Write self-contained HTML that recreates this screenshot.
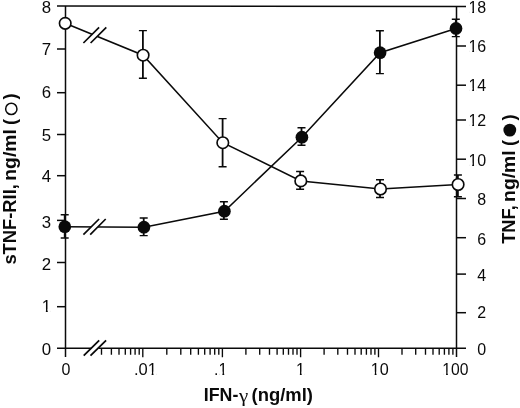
<!DOCTYPE html>
<html lang="en"><head><meta charset="utf-8"><title>Figure</title>
<style>html,body{margin:0;padding:0;background:#fff}body{width:520px;height:408px;overflow:hidden}</style></head>
<body>
<svg width="520" height="408" viewBox="0 0 520 408" style="display:block">
<rect width="520" height="408" fill="#fff"/>
<g stroke="#0a0a0a" stroke-width="1.5" fill="none" stroke-linecap="butt">
<path d="M57 5.95L466 6.5"/>
<path d="M65.5 6.1V357"/>
<path d="M456.5 6.1V357"/>
<path d="M57 348.3H91.5M98.5 348.3H466"/>
<path d="M57 49H65.5"/>
<path d="M57 92.7H65.5"/>
<path d="M57 134.5H65.5"/>
<path d="M57 175.7H65.5"/>
<path d="M57 220.4H65.5"/>
<path d="M57 262.5H65.5"/>
<path d="M57 306.7H65.5"/>
<path d="M456.5 46H466"/>
<path d="M456.5 85.2H466"/>
<path d="M456.5 120H466"/>
<path d="M456.5 159.2H466"/>
<path d="M456.5 198.5H466"/>
<path d="M456.5 237.7H466"/>
<path d="M456.5 274.1H466"/>
<path d="M456.5 312.7H466"/>
<path d="M101.5 348.3V354.7M111.4 348.3V354.7M119.0 348.3V354.7M125.3 348.3V354.7M130.6 348.3V354.7M135.1 348.3V354.7M139.2 348.3V354.7M166.8 348.3V354.7M180.8 348.3V354.7M190.7 348.3V354.7M198.4 348.3V354.7M204.7 348.3V354.7M210.1 348.3V354.7M214.7 348.3V354.7M218.8 348.3V354.7M245.9 348.3V354.7M259.7 348.3V354.7M269.5 348.3V354.7M277.1 348.3V354.7M283.3 348.3V354.7M288.5 348.3V354.7M293.0 348.3V354.7M297.0 348.3V354.7M324.1 348.3V354.7M337.8 348.3V354.7M347.5 348.3V354.7M355.0 348.3V354.7M361.2 348.3V354.7M366.4 348.3V354.7M371.0 348.3V354.7M374.9 348.3V354.7M402.0 348.3V354.7M415.7 348.3V354.7M425.5 348.3V354.7M433.0 348.3V354.7M439.2 348.3V354.7M444.4 348.3V354.7M448.9 348.3V354.7M452.9 348.3V354.7M142.8 348.3V357.2M222.4 348.3V357.2M300.6 348.3V357.2M378.5 348.3V357.2" stroke-width="1.35"/>
<path d="M83.7 355.6L99.2 340.4M90.5 355.6L106.1 340.4" stroke-width="1.8"/>
</g>
<g stroke="#0a0a0a" stroke-width="1.55" fill="none">
<polyline points="65.2,23.3 143.1,55.2 222.8,142.7 300.8,180.9 380.5,189.0 458.1,184.5"/>
<polyline points="64.8,226.7 143.9,227.2 224.4,211.2 301.9,137.2 380.1,52.7 456.0,28.4"/>
<path d="M83.4 43L99.1 27.4L106.3 27.4L90.6 43Z" fill="#fff" stroke="none"/>
<path d="M83.4 234.6L99.1 219L105.7 219L90.2 234.6Z" fill="#fff" stroke="none"/>
<path d="M83.4 43L99.1 27.4M90.6 43L106.3 27.4" stroke-width="1.7"/>
<path d="M83.4 234.6L99.1 219M90.2 234.6L105.7 219" stroke-width="1.7"/>
<path d="M142.9 30.6V78.2" stroke-width="1.8"/><path d="M138.9 30.6H146.9M138.9 78.2H146.9" stroke-width="1.45"/>
<path d="M222.6 118.6V166.7" stroke-width="1.8"/><path d="M218.6 118.6H226.6M218.6 166.7H226.6" stroke-width="1.45"/>
<path d="M300.1 171.4V189.3" stroke-width="1.8"/><path d="M296.1 171.4H304.1M296.1 189.3H304.1" stroke-width="1.45"/>
<path d="M380.0 179.7V197.4" stroke-width="1.8"/><path d="M376.0 179.7H384.0M376.0 197.4H384.0" stroke-width="1.45"/>
<path d="M457.9 175V196.8" stroke-width="1.8"/><path d="M453.9 175H461.9M453.9 196.8H461.9" stroke-width="1.45"/>
<path d="M64.7 214.7V237.9" stroke-width="1.8"/><path d="M60.7 214.7H68.7M60.7 237.9H68.7" stroke-width="1.45"/>
<path d="M143.7 217.9V235.6" stroke-width="1.8"/><path d="M139.7 217.9H147.7M139.7 235.6H147.7" stroke-width="1.45"/>
<path d="M223.9 201.8V219.3" stroke-width="1.8"/><path d="M219.9 201.8H227.9M219.9 219.3H227.9" stroke-width="1.45"/>
<path d="M301.5 127.7V145.3" stroke-width="1.8"/><path d="M297.5 127.7H305.5M297.5 145.3H305.5" stroke-width="1.45"/>
<path d="M379.9 30.7V73.6" stroke-width="1.8"/><path d="M375.9 30.7H383.9M375.9 73.6H383.9" stroke-width="1.45"/>
<path d="M455.8 19.2V36.6" stroke-width="1.8"/><path d="M451.8 19.2H459.8M451.8 36.6H459.8" stroke-width="1.45"/>
<circle cx="65.2" cy="23.3" r="5.75" fill="#fff" stroke-width="1.65"/>
<circle cx="143.1" cy="55.2" r="5.75" fill="#fff" stroke-width="1.65"/>
<circle cx="222.8" cy="142.7" r="5.75" fill="#fff" stroke-width="1.65"/>
<circle cx="300.8" cy="180.9" r="5.75" fill="#fff" stroke-width="1.65"/>
<circle cx="380.5" cy="189.0" r="5.75" fill="#fff" stroke-width="1.65"/>
<circle cx="458.1" cy="184.5" r="5.75" fill="#fff" stroke-width="1.65"/>
<circle cx="64.8" cy="226.7" r="6.35" fill="#0a0a0a" stroke="none"/>
<circle cx="143.9" cy="227.2" r="6.35" fill="#0a0a0a" stroke="none"/>
<circle cx="224.4" cy="211.2" r="6.35" fill="#0a0a0a" stroke="none"/>
<circle cx="301.9" cy="137.2" r="6.35" fill="#0a0a0a" stroke="none"/>
<circle cx="380.1" cy="52.7" r="6.35" fill="#0a0a0a" stroke="none"/>
<circle cx="456.0" cy="28.4" r="6.35" fill="#0a0a0a" stroke="none"/>
</g>
<g font-family="'Liberation Sans', Arial, Helvetica, sans-serif" font-size="16.5" fill="#0a0a0a">
<text transform="translate(51.2 12.9) scale(1.02 1)" text-anchor="end">8</text>
<text transform="translate(51.2 54.9) scale(1.02 1)" text-anchor="end">7</text>
<text transform="translate(51.2 97.9) scale(1.02 1)" text-anchor="end">6</text>
<text transform="translate(51.2 141.0) scale(1.02 1)" text-anchor="end">5</text>
<text transform="translate(51.2 181.7) scale(1.02 1)" text-anchor="end">4</text>
<text transform="translate(51.2 227.7) scale(1.02 1)" text-anchor="end">3</text>
<text transform="translate(51.2 270.0) scale(1.02 1)" text-anchor="end">2</text>
<text transform="translate(51.2 311.8) scale(1.02 1)" text-anchor="end">1</text>
<text transform="translate(51.2 354.6) scale(1.02 1)" text-anchor="end">0</text>
<text transform="translate(486.2 13.0) scale(0.97 1)" text-anchor="end">18</text>
<text transform="translate(486.2 52.1) scale(0.97 1)" text-anchor="end">16</text>
<text transform="translate(486.2 90.8) scale(0.97 1)" text-anchor="end">14</text>
<text transform="translate(486.2 125.9) scale(0.97 1)" text-anchor="end">12</text>
<text transform="translate(486.2 165.5) scale(0.97 1)" text-anchor="end">10</text>
<text transform="translate(486.2 204.8) scale(0.97 1)" text-anchor="end">8</text>
<text transform="translate(486.2 244.7) scale(0.97 1)" text-anchor="end">6</text>
<text transform="translate(486.2 281.4) scale(0.97 1)" text-anchor="end">4</text>
<text transform="translate(486.2 318.0) scale(0.97 1)" text-anchor="end">2</text>
<text transform="translate(486.2 354.7) scale(0.97 1)" text-anchor="end">0</text>
<text transform="translate(66.0 374.5) scale(0.97 1)" text-anchor="middle">0</text>
<text transform="translate(145.4 374.5) scale(1.0 1)" text-anchor="middle">.01</text>
<text transform="translate(220.8 374.5) scale(0.97 1)" text-anchor="middle">.1</text>
<text transform="translate(300.5 374.5) scale(0.97 1)" text-anchor="middle">1</text>
<text transform="translate(379.8 374.5) scale(0.98 1)" text-anchor="middle">10</text>
<text transform="translate(455.4 374.5) scale(0.95 1)" text-anchor="middle">100</text>
</g>
<g fill="#fff"><rect x="42.72" y="308.97" width="3.15" height="3.53"/><rect x="47.76" y="308.97" width="3.02" height="3.53"/><rect x="469.22" y="10.17" width="3.01" height="3.53"/><rect x="474.04" y="10.17" width="2.88" height="3.53"/><rect x="469.22" y="49.27" width="3.01" height="3.53"/><rect x="474.04" y="49.27" width="2.88" height="3.53"/><rect x="469.22" y="87.97" width="3.01" height="3.53"/><rect x="474.04" y="87.97" width="2.88" height="3.53"/><rect x="469.22" y="123.07" width="3.01" height="3.53"/><rect x="474.04" y="123.07" width="2.88" height="3.53"/><rect x="469.22" y="162.67" width="3.01" height="3.53"/><rect x="474.04" y="162.67" width="2.88" height="3.53"/><rect x="148.55" y="371.67" width="3.09" height="3.53"/><rect x="153.50" y="371.67" width="2.96" height="3.53"/><rect x="219.39" y="371.67" width="3.01" height="3.53"/><rect x="224.21" y="371.67" width="2.88" height="3.53"/><rect x="296.87" y="371.67" width="3.01" height="3.53"/><rect x="301.69" y="371.67" width="2.88" height="3.53"/><rect x="371.64" y="371.67" width="3.03" height="3.53"/><rect x="376.50" y="371.67" width="2.91" height="3.53"/><rect x="443.12" y="371.67" width="2.95" height="3.53"/><rect x="447.85" y="371.67" width="2.83" height="3.53"/></g>
<g font-family="'Liberation Sans', Arial, Helvetica, sans-serif" font-size="18" font-weight="bold" fill="#0a0a0a">
<text x="203.8" y="400.9" font-size="18.5" textLength="34.6" lengthAdjust="spacingAndGlyphs">IFN-</text>
<text transform="translate(238.9 401.7) scale(1.1 1)" font-family="'Liberation Serif', serif" font-weight="normal" font-size="19">γ</text>
<text x="251.6" y="400.9" font-size="18.5" textLength="61.4" lengthAdjust="spacingAndGlyphs">(ng/ml)</text>
<text transform="translate(16.4 264.6) rotate(-90) scale(1.02 1.07)">sTNF-RII,</text>
<text transform="translate(16.4 180.7) rotate(-90) scale(1.075 1.07)">ng/ml</text>
<text transform="translate(16.4 125.0) rotate(-90) scale(1.02 1.07)">(</text>
<text transform="translate(16.4 99.6) rotate(-90) scale(1.025 1.07)">)</text>
<text transform="translate(514.8 243.8) rotate(-90) scale(1.015 1.07)">TNF,</text>
<text transform="translate(514.8 201.9) rotate(-90) scale(1.075 1.07)">ng/ml</text>
<text transform="translate(514.8 146.1) rotate(-90) scale(1.015 1.07)">(</text>
<text transform="translate(514.8 120.6) rotate(-90) scale(1.015 1.07)">)</text>
</g>
<circle cx="11.3" cy="108.9" r="5.65" fill="#fff" stroke="#0a0a0a" stroke-width="1.5"/>
<circle cx="509.8" cy="130.1" r="6.4" fill="#0a0a0a"/>
</svg>
</body></html>
